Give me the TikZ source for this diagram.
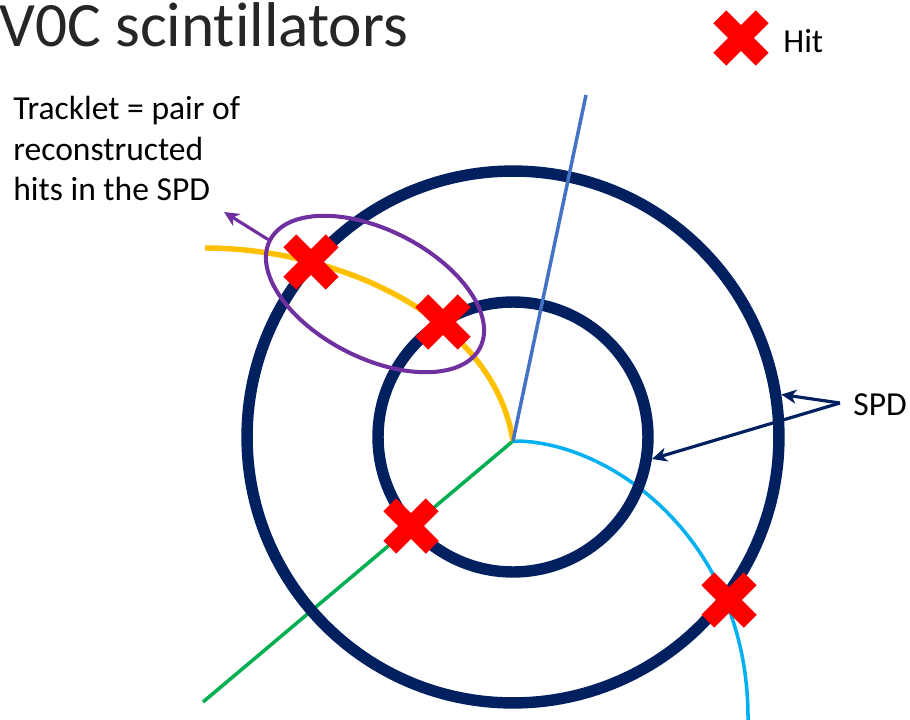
\documentclass[tikz,border=0pt]{standalone}
\usepackage{fontspec}
\setmainfont{Carlito}[Ligatures=NoCommon]
\usetikzlibrary{arrows.meta,shapes.misc,shapes.geometric}

\definecolor{ringnavy}{HTML}{002060}
\definecolor{hitred}{HTML}{FF0000}
\definecolor{trackblue}{HTML}{4472C4}
\definecolor{trackgreen}{HTML}{00B050}
\definecolor{trackyellow}{HTML}{FFC000}
\definecolor{trackcyan}{HTML}{00B0F0}
\definecolor{pairpurple}{HTML}{7030A0}
\definecolor{titlegray}{HTML}{262626}

\begin{document}
\begin{tikzpicture}[x=0.02cm,y=-0.02cm,
  ring/.style={circle,draw=ringnavy,line width=6.5pt,inner sep=0pt},
  hitmark/.style={cross out,draw=hitred,line width=10.4pt,line cap=butt,
                  minimum size=0.85cm,inner sep=0pt,outer sep=0pt},
  txt/.style={font=\fontsize{19.1}{22}\selectfont,inner sep=0pt,anchor=base west,text=black},
  track/.style={line width=2pt},
  pointer/.style={line width=1.8pt,
                  -{Stealth[length=0.3cm,width=0.28cm,inset=0.09cm]}}]

\useasboundingbox (0,0) rectangle (910,720);

% interaction vertex and track end points
\coordinate (O) at (513,441);
\coordinate (gEnd) at (203,702);
\coordinate (cEnd) at (748,722);
\coordinate (yEnd) at (205,248);
\coordinate (bEnd) at (586,95);

% tracks that pass beneath the detector layers
\draw[track,trackgreen] (O) -- (gEnd);
\draw[track,trackcyan] (O) .. controls (610,440) and (750,540) .. (cEnd);
\draw[track,trackyellow,line width=3.1pt] (O) .. controls (493,315) and (335,248) .. (yEnd);

% the two SPD layers
\node[ring,minimum size=10.64cm] (outer) at (513,437) {};
\node[ring,minimum size=5.4cm] (inner) at (513,437) {};

% track drawn over the layers
\draw[track,trackblue] (O) -- (bEnd);

% tracklet: pair of hits
\node[draw=pairpurple,line width=2.3pt,ellipse,minimum width=4.72cm,
      minimum height=2.56cm,rotate=-27,inner sep=0pt] (pair) at (375,294) {};
\coordinate (pairtip) at (224,212);
\draw[pointer,pairpurple] (pair.west) -- (pairtip);

% SPD pointers
\coordinate (spdfork) at (840,403);
\draw[pointer,ringnavy] (spdfork) -- (outer.9.5);
\draw[pointer,ringnavy] (spdfork) -- (inner.-9.4);

% hits
\node[hitmark] (h1) at (311,262) {};
\node[hitmark] (h2) at (443,322) {};
\node[hitmark] (h3) at (411,526) {};
\node[hitmark] (h4) at (729,600) {};
\node[hitmark] (hkey) at (741,38) {};

% labels
\node[txt,font=\fontsize{36}{40}\selectfont,text=titlegray] (title) at (-1,47) {V0C scintillators};
\node[txt] (hitlbl) at (783,52) {Hit};
\node[txt] (spdlbl) at (853,415) {SPD};
\node[txt] (trk1) at (13,119) {Tracklet = pair of};
\node[txt] (trk2) at (13,160) {reconstructed};
\node[txt] (trk3) at (13,200) {hits in the SPD};
\end{tikzpicture}
\end{document}
